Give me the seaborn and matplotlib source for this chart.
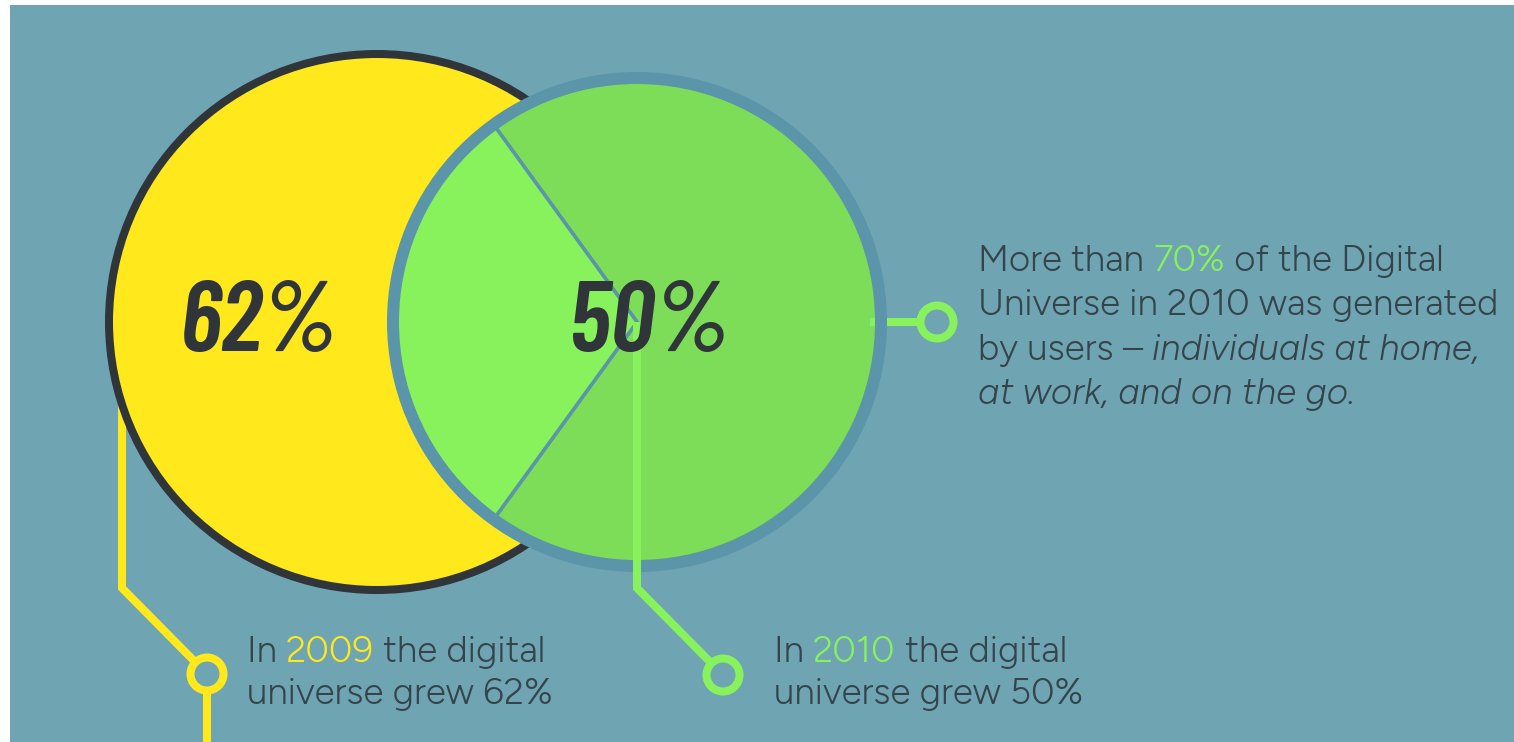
import matplotlib
matplotlib.use("Agg")
import matplotlib.pyplot as plt
from matplotlib import font_manager
from matplotlib.patches import Circle
import seaborn as sns

# Yearly growth of the digital universe
growth_years = [2009, 2010]
growth_pct = [62, 50]

# Share of the 2010 digital universe generated by users
share_labels = ["users", "other"]
share_values = [70, 30]

W, H = 1514, 742
BG = "#6fa5b3"
STEEL = "#5a95a9"
YELLOW = "#ffe81c"
GREEN_DARK = "#7ddd58"
GREEN_LIGHT = "#88f25c"
INK = "#2f3538"
TEXT = "#35444a"
PX = 0.72  # points per pixel at 100 dpi

sns.set_theme(style="white", rc={"axes.facecolor": BG, "figure.facecolor": "white"})


def pick_family(cands, need_weight=400, fallback="DejaVu Sans"):
    faces = {}
    for f in font_manager.fontManager.ttflist:
        faces.setdefault(f.name, set()).add((f.style, f.weight))
    for c in cands:
        styles = faces.get(c, set())
        has_italic = any(s == "italic" and abs(w - need_weight) <= 100 for s, w in styles)
        has_roman = any(s == "normal" and abs(w - 400) <= 100 for s, w in styles)
        if has_italic and (has_roman or need_weight != 400):
            return c
    return fallback


BODY = pick_family(["Nunito Sans", "Figtree", "Mulish", "Lato", "Open Sans"])
BIG = pick_family(["Barlow Condensed", "Barlow Semi Condensed", "Sofia Sans Condensed",
                   "Liberation Sans Narrow"], need_weight=600)
plt.rcParams["font.family"] = [BODY, "DejaVu Sans"]

fig = plt.figure(figsize=(W / 100, H / 100), dpi=100)
ax = fig.add_axes([10 / W, 0, (W - 10) / W, (H - 5) / H])

# yellow circle: 2009
lw_lead = 8 * PX
ax.plot([122, 122, 207], [380, 588, 674], color=YELLOW, lw=lw_lead, zorder=1,
        solid_joinstyle="miter", solid_capstyle="butt")
ax.plot([207, 207], [674, 760], color=YELLOW, lw=lw_lead, zorder=1, solid_capstyle="butt")
ax.add_patch(Circle((377, 322), 268, facecolor=YELLOW, edgecolor=INK, lw=8 * PX, zorder=2))

# green pie: 2010, share generated by users
wedges, _ = ax.pie(share_values, colors=[GREEN_DARK, GREEN_LIGHT], startangle=234,
                   counterclock=True, radius=244, center=(637, 322), frame=True,
                   wedgeprops=dict(edgecolor=STEEL, linewidth=3.5 * PX, zorder=3))
ax.add_patch(Circle((637, 322), 244, fill=False, edgecolor=STEEL, lw=12 * PX, zorder=4))

# green leader lines
ax.plot([637, 637, 723], [322, 588, 675], color=GREEN_LIGHT, lw=lw_lead, zorder=5,
        solid_joinstyle="miter", solid_capstyle="butt")
ax.plot([870, 937], [322, 322], color=GREEN_LIGHT, lw=lw_lead, zorder=3.5,
        solid_capstyle="butt")
for (cx, cy), col in [((207, 674), YELLOW), ((723, 675), GREEN_LIGHT), ((937, 322), GREEN_LIGHT)]:
    ax.add_patch(Circle((cx, cy), 16.5, facecolor=BG, edgecolor=col, lw=8 * PX, zorder=6))

ax.set_xlim(10, W)
ax.set_ylim(H, 5)
ax.set_aspect("equal")
ax.set_xticks([])
ax.set_yticks([])
for s in ax.spines.values():
    s.set_visible(False)

# big growth figures
big_kw = dict(fontsize=100 * PX, color=INK, fontweight=600, style="italic",
              family=[BIG, "DejaVu Sans"], ha="center", va="baseline", zorder=10)
ax.text(259, 351, f"{growth_pct[0]}%", **big_kw)
ax.text(649, 351, f"{growth_pct[1]}%", **big_kw)

renderer = fig.canvas.get_renderer()
fs_body = 36.8 * PX
scale = (W - 10) / ax.get_window_extent(renderer).width


def text_width(s, **kw):
    probe = ax.text(0, 0, s + "|", **kw)
    bar = ax.text(0, 0, "|", **kw)
    w = probe.get_window_extent(renderer).width - bar.get_window_extent(renderer).width
    probe.remove()
    bar.remove()
    return w * scale


def rich_line(x, y, parts):
    for s, color, style in parts:
        kw = dict(fontsize=fs_body, style=style, family=[BODY, "DejaVu Sans"])
        ax.text(x, y, s, color=color, ha="left", va="baseline", zorder=10, **kw)
        x += text_width(s, **kw)


rich_line(978, 271, [("More than ", TEXT, "normal"), (f"{share_values[0]}%", GREEN_LIGHT, "normal"),
                     (" of the Digital", TEXT, "normal")])
rich_line(978, 315, [(f"Universe in {growth_years[1]} was generated", TEXT, "normal")])
rich_line(978, 360, [("by users \u2013 ", TEXT, "normal"), ("individuals at home,", TEXT, "italic")])
rich_line(978, 404, [("at work, and on the go.", TEXT, "italic")])

for x0, year, pct, col in [(247, growth_years[0], growth_pct[0], YELLOW),
                           (774, growth_years[1], growth_pct[1], GREEN_LIGHT)]:
    rich_line(x0, 662, [("In ", TEXT, "normal"), (str(year), col, "normal"),
                        (" the digital", TEXT, "normal")])
    rich_line(x0, 704, [(f"universe grew {pct}%", TEXT, "normal")])

fig.savefig("out.png", dpi=100)
